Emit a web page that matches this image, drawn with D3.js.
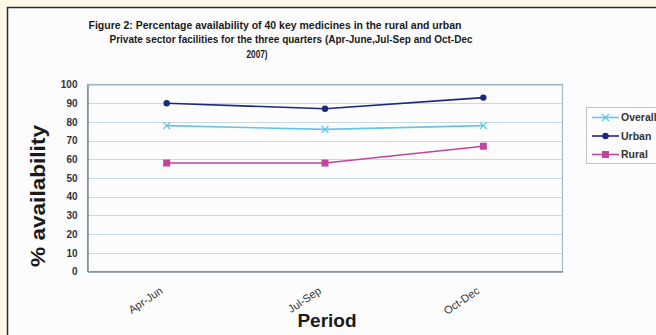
<!DOCTYPE html>
<html>
<head>
<meta charset="utf-8">
<script src="https://cdn.jsdelivr.net/npm/d3@7"></script>
<style>
  html, body { margin: 0; padding: 0; background: #fdf7e6; }
  svg { display: block; }
</style>
</head>
<body>
<svg id="chart" width="656" height="335"></svg>
<script>
// Quarterly availability (%) of 40 key medicines, private sector, 2007
const periods = ["Apr-Jun", "Jul-Sep", "Oct-Dec"];
const overall = [78, 76, 78];
const urban = [90, 87, 93];
const rural = [58, 58, 67];
const yTicks = [0, 10, 20, 30, 40, 50, 60, 70, 80, 90, 100];
const titleLines = [
  "Figure 2: Percentage availability of 40 key medicines in the rural and urban",
  "Private sector facilities for the three quarters (Apr-June,Jul-Sep and Oct-Dec",
  "2007)"
];

const series = [
  { name: "Overall", values: overall, color: "#62c6e6", marker: "x" },
  { name: "Urban", values: urban, color: "#1b2a78", marker: "dot" },
  { name: "Rural", values: rural, color: "#c2449c", marker: "square" }
];

const FONT = "Liberation Sans, Arial, sans-serif";
const svg = d3.select("#chart");
const W = 656, H = 335;

// Framed panel
svg.append("rect").attr("x", 0).attr("y", 0).attr("width", W).attr("height", H).attr("fill", "#fdf7e6");
svg.append("rect").attr("x", 7.5).attr("y", 7.5).attr("width", W).attr("height", H)
  .attr("fill", "#fcfcfd").attr("stroke", "#2a2a2a").attr("stroke-width", 1.5);

const plot = { left: 87.5, right: 562.5, top: 84.5, bottom: 271.5 };

const x = d3.scaleBand().domain(periods).range([plot.left, plot.right]);
const y = d3.scaleLinear().domain([0, 100]).range([plot.bottom, plot.top]);

// Title
const titleCenters = [275, 291, 257];
const titleWidths = [373, 363, 21];
titleLines.forEach((t, i) => {
  svg.append("text")
    .attr("x", titleCenters[i]).attr("y", 28.5 + i * 14.5)
    .attr("text-anchor", "middle")
    .attr("font-family", FONT)
    .attr("font-weight", "bold").attr("font-size", 10.5)
    .attr("fill", "#1a1a1a")
    .attr("textLength", titleWidths[i]).attr("lengthAdjust", "spacingAndGlyphs")
    .text(t);
});

// Gridlines
svg.append("g").selectAll("line").data(yTicks.filter(d => d > 0)).join("line")
  .attr("x1", plot.left).attr("x2", plot.right)
  .attr("y1", d => Math.round(y(d)) + 0.5).attr("y2", d => Math.round(y(d)) + 0.5)
  .attr("stroke", "#c9d9e2").attr("stroke-width", 1);

// Plot border
svg.append("rect")
  .attr("x", plot.left).attr("y", plot.top)
  .attr("width", plot.right - plot.left).attr("height", plot.bottom - plot.top)
  .attr("fill", "none").attr("stroke", "#9fb8c6").attr("stroke-width", 1.2);

// Y axis
const yAxis = svg.append("g")
  .attr("transform", `translate(${plot.left},0)`)
  .call(d3.axisLeft(y).tickValues(yTicks).tickSize(0).tickPadding(10));
yAxis.select(".domain").attr("stroke", "#7f8f98").attr("stroke-width", 1.5);
yAxis.selectAll("text")
  .attr("font-family", FONT)
  .attr("font-weight", "bold").attr("font-size", 10).attr("fill", "#333");

// X axis
const xAxis = svg.append("g")
  .attr("transform", `translate(0,${plot.bottom})`)
  .call(d3.axisBottom(x).tickSize(0).tickPadding(0));
xAxis.select(".domain").attr("stroke", "#7f8f98").attr("stroke-width", 1.5);
xAxis.selectAll("text")
  .attr("font-family", FONT)
  .attr("font-size", 11).attr("fill", "#333")
  .attr("text-anchor", "end")
  .attr("transform", "translate(-3,21) rotate(-34)")
  .attr("dy", "0");

// Axis titles
svg.append("text")
  .attr("transform", `translate(45,196) rotate(-90)`)
  .attr("text-anchor", "middle")
  .attr("font-family", FONT)
  .attr("font-weight", "bold").attr("font-size", 21).attr("fill", "#1a1a1a")
  .attr("textLength", 142).attr("lengthAdjust", "spacingAndGlyphs")
  .text("% availability");
svg.append("text")
  .attr("x", 327).attr("y", 327)
  .attr("text-anchor", "middle")
  .attr("font-family", FONT)
  .attr("font-weight", "bold").attr("font-size", 19).attr("fill", "#1a1a1a")
  .text("Period");

// Markers
function drawMarker(g, type, color, cx, cy) {
  if (type === "x") {
    g.append("path")
      .attr("d", `M${cx - 3.5},${cy - 3.5}L${cx + 3.5},${cy + 3.5}M${cx - 3.5},${cy + 3.5}L${cx + 3.5},${cy - 3.5}`)
      .attr("stroke", color).attr("stroke-width", 1.3).attr("fill", "none");
  } else if (type === "dot") {
    g.append("path")
      .attr("d", d3.symbol().type(d3.symbolCircle).size(32)())
      .attr("transform", `translate(${cx},${cy})`)
      .attr("fill", color);
  } else {
    g.append("rect")
      .attr("x", cx - 3.5).attr("y", cy - 3.5).attr("width", 7).attr("height", 7)
      .attr("fill", color);
  }
}

const line = d3.line()
  .x((d, i) => x(periods[i]) + x.bandwidth() / 2)
  .y(d => y(d));

series.forEach(s => {
  const g = svg.append("g");
  g.append("path").datum(s.values)
    .attr("d", line).attr("fill", "none")
    .attr("stroke", s.color).attr("stroke-width", 1.6);
  s.values.forEach((v, i) => drawMarker(g, s.marker, s.color, x(periods[i]) + x.bandwidth() / 2, y(v)));
});

// Legend
const legend = svg.append("g");
legend.append("rect")
  .attr("x", 586.5).attr("y", 107.5).attr("width", 80).attr("height", 56)
  .attr("fill", "#fcfcfd").attr("stroke", "#b9c6cd").attr("stroke-width", 1);
series.forEach((s, i) => {
  const ly = 117.5 + i * 18.5;
  legend.append("line")
    .attr("x1", 592).attr("x2", 619).attr("y1", ly).attr("y2", ly)
    .attr("stroke", s.color).attr("stroke-width", 1.6);
  drawMarker(legend, s.marker, s.color, 605.5, ly);
  legend.append("text")
    .attr("x", 621).attr("y", ly + 3.5)
    .attr("font-family", FONT)
    .attr("font-weight", "bold")
    .attr("font-size", 10.5).attr("fill", "#333")
    .text(s.name);
});
</script>
</body>
</html>
